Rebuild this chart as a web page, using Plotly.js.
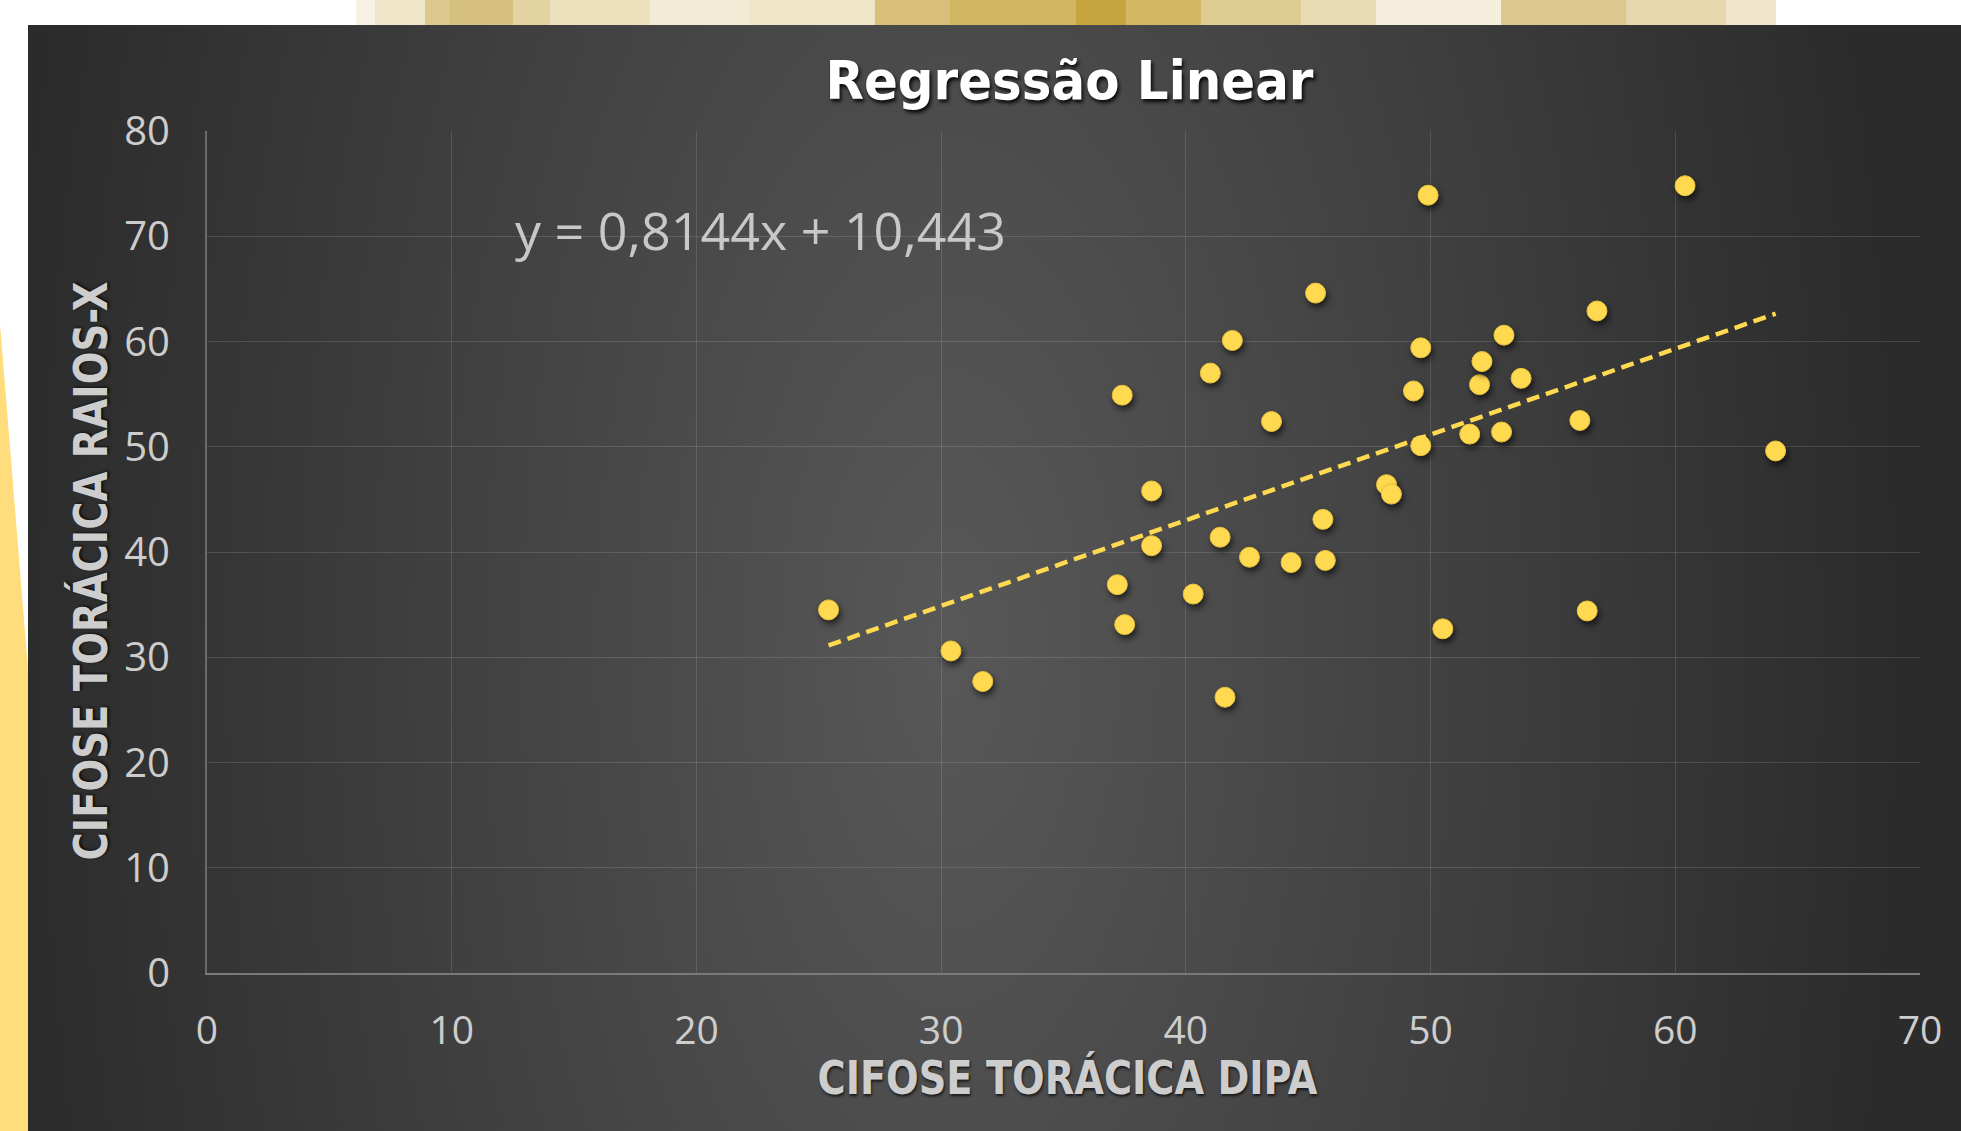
<!DOCTYPE html>
<html>
<head>
<meta charset="utf-8">
<script src="https://cdn.plot.ly/plotly-3.0.1.min.js"></script>
<style>
html,body{margin:0;padding:0;background:#ffffff;}
body{width:1961px;height:1131px;position:relative;overflow:hidden;}
#strip{position:absolute;left:356px;top:0;width:1420px;height:25px;
background:linear-gradient(to right,
#f7f1e3 0px,#f7f1e3 19px,#efe5c8 19px,#efe5c8 69px,#dcc88e 69px,#dcc88e 94px,
#d6c07f 94px,#d6c07f 157px,#e3d3a0 157px,#e3d3a0 194px,#ece0bd 194px,#ece0bd 294px,
#f3ebd6 294px,#f3ebd6 394px,#efe5c8 394px,#efe5c8 519px,#d8c07a 519px,#d8c07a 594px,
#d1b662 594px,#d1b662 720px,#c7a53e 720px,#c7a53e 770px,#d4b866 770px,#d4b866 845px,
#dfcc92 845px,#dfcc92 945px,#e9dcb2 945px,#e9dcb2 1020px,#f5eedd 1020px,#f5eedd 1145px,
#dcc88f 1145px,#dcc88f 1270px,#e6d8ac 1270px,#e6d8ac 1370px,#efe6cc 1370px,#efe6cc 1420px);}
#yellow{position:absolute;left:0;top:0;width:28px;height:1131px;background:#FFDC7C;
clip-path:polygon(0px 324px,28px 669px,28px 1131px,0px 1131px);}
#panel{position:absolute;left:28px;top:25px;width:1933px;height:1106px;
background:radial-gradient(ellipse 950px 2000px at 922px 625px,#585858 0%,#2b2b2b 100%);}
#chart{position:absolute;left:0;top:0;width:1961px;height:1131px;}
#chart .scatterlayer .trace:first-child path.point{filter:drop-shadow(2px 4px 3px rgba(0,0,0,0.6));}
</style>
</head>
<body>
<div id="strip"></div>
<div id="yellow"></div>
<div id="panel"></div>
<div id="chart"></div>
<script>
// Data
var cifoseDipa = [25.4, 30.4, 31.7, 37.2, 37.4, 37.5, 38.6, 38.6, 40.3, 41.0, 41.4, 41.6, 41.9, 42.6, 43.5, 44.3, 45.3, 45.6, 45.7, 48.2, 48.4, 49.3, 49.6, 49.6, 49.9, 50.5, 51.6, 52.0, 52.1, 52.9, 53.0, 53.7, 56.1, 56.4, 56.8, 60.4, 64.1];
var cifoseRaiosX = [34.5, 30.6, 27.7, 36.9, 54.9, 33.1, 45.8, 40.6, 36.0, 57.0, 41.4, 26.2, 60.1, 39.5, 52.4, 39.0, 64.6, 43.1, 39.2, 46.4, 45.5, 55.3, 50.1, 59.4, 73.9, 32.7, 51.2, 55.9, 58.1, 51.4, 60.6, 56.5, 52.5, 34.4, 62.9, 74.8, 49.6];
var trendSlope = [0.8144];
var trendIntercept = [10.443];
var xTickValues = [0, 10, 20, 30, 40, 50, 60, 70];
var yTickValues = [0, 10, 20, 30, 40, 50, 60, 70, 80];

var xMin = Math.min.apply(null, cifoseDipa);
var xMax = Math.max.apply(null, cifoseDipa);
var trendX = [xMin, xMax];
var trendY = trendX.map(function (v) { return trendSlope[0] * v + trendIntercept[0]; });

function fmt(n) { return String(n).replace('.', ','); }
var eqText = 'y = ' + fmt(trendSlope[0]) + 'x + ' + fmt(trendIntercept[0]);

var yTickFont = {family: '"Open Sans", sans-serif', size: 40, color: '#cdcdcd'};
var xTickFont = {family: '"Open Sans", sans-serif', size: 39, color: '#cdcdcd'};
var axTitleFont = {family: '"DejaVu Sans Condensed", "DejaVu Sans", sans-serif', size: 46, color: '#cdcdcd', weight: 700, shadow: '1px 2px 3px rgba(0,0,0,0.7)'};

var traces = [
  {
    type: 'scatter', mode: 'markers', x: cifoseDipa, y: cifoseRaiosX,
    marker: {size: 20, color: '#FFD94F', line: {color: '#E9C23F', width: 1}},
    hoverinfo: 'x+y'
  },
  {
    type: 'scatter', mode: 'lines', x: trendX, y: trendY,
    line: {color: '#FFD94F', width: 4.5, dash: '13px,7px'},
    hoverinfo: 'skip'
  }
];

var layout = {
  width: 1961, height: 1131, autosize: false,
  paper_bgcolor: 'rgba(0,0,0,0)', plot_bgcolor: 'rgba(0,0,0,0)',
  margin: {l: 207, r: 41, t: 131, b: 158, pad: 0},
  showlegend: false,
  title: {
    text: 'Regressão Linear', x: 0.5035, xref: 'paper', xanchor: 'center',
    y: 0.929, yref: 'container', yanchor: 'middle',
    font: {family: '"DejaVu Sans", sans-serif', size: 54, color: '#ffffff', weight: 700, shadow: '2px 3px 4px rgba(0,0,0,0.85)'}
  },
  xaxis: {
    range: [0, 70], tickmode: 'array', tickvals: xTickValues,
    showgrid: true, gridcolor: 'rgba(255,255,255,0.13)', gridwidth: 1,
    zeroline: false, showline: true, linecolor: '#7a7a7a', linewidth: 2,
    ticks: '', ticklabelstandoff: 22, tickfont: xTickFont,
    title: {text: 'CIFOSE TORÁCICA DIPA', font: axTitleFont, standoff: 0},
    fixedrange: true
  },
  yaxis: {
    range: [0, 80], tickmode: 'array', tickvals: yTickValues,
    showgrid: true, gridcolor: 'rgba(255,255,255,0.13)', gridwidth: 1,
    zeroline: false, showline: true, linecolor: '#6a6a6a', linewidth: 2,
    ticks: '', ticklabelstandoff: 27, tickfont: yTickFont,
    title: {text: 'CIFOSE TORÁCICA RAIOS-X', font: axTitleFont, standoff: 2},
    fixedrange: true
  },
  annotations: [{
    text: eqText, x: 12.5, y: 70.6, xref: 'x', yref: 'y',
    xanchor: 'left', yanchor: 'middle', showarrow: false,
    font: {family: '"Open Sans", sans-serif', size: 52, color: '#c8c8c8'}
  }]
};

function fitText(el, len) {
  if (!el) return;
  el.setAttribute('textLength', len);
  el.setAttribute('lengthAdjust', 'spacingAndGlyphs');
}

Plotly.newPlot('chart', traces, layout, {displayModeBar: false}).then(function (gd) {
  fitText(gd.querySelector('.gtitle'), 488);
  var xt = gd.querySelector('.xtitle');
  if (xt) {
    fitText(xt, 500);
    xt.setAttribute('x', parseFloat(xt.getAttribute('x')) + 4);
    xt.setAttribute('y', parseFloat(xt.getAttribute('y')) - 4);
  }
  var yt = gd.querySelector('.ytitle');
  if (yt) {
    fitText(yt, 579);
    var x = parseFloat(yt.getAttribute('x'));
    var y = parseFloat(yt.getAttribute('y')) + 19;
    yt.setAttribute('y', y);
    yt.setAttribute('transform', 'rotate(-90,' + x + ',' + y + ')');
  }
});
</script>
</body>
</html>
